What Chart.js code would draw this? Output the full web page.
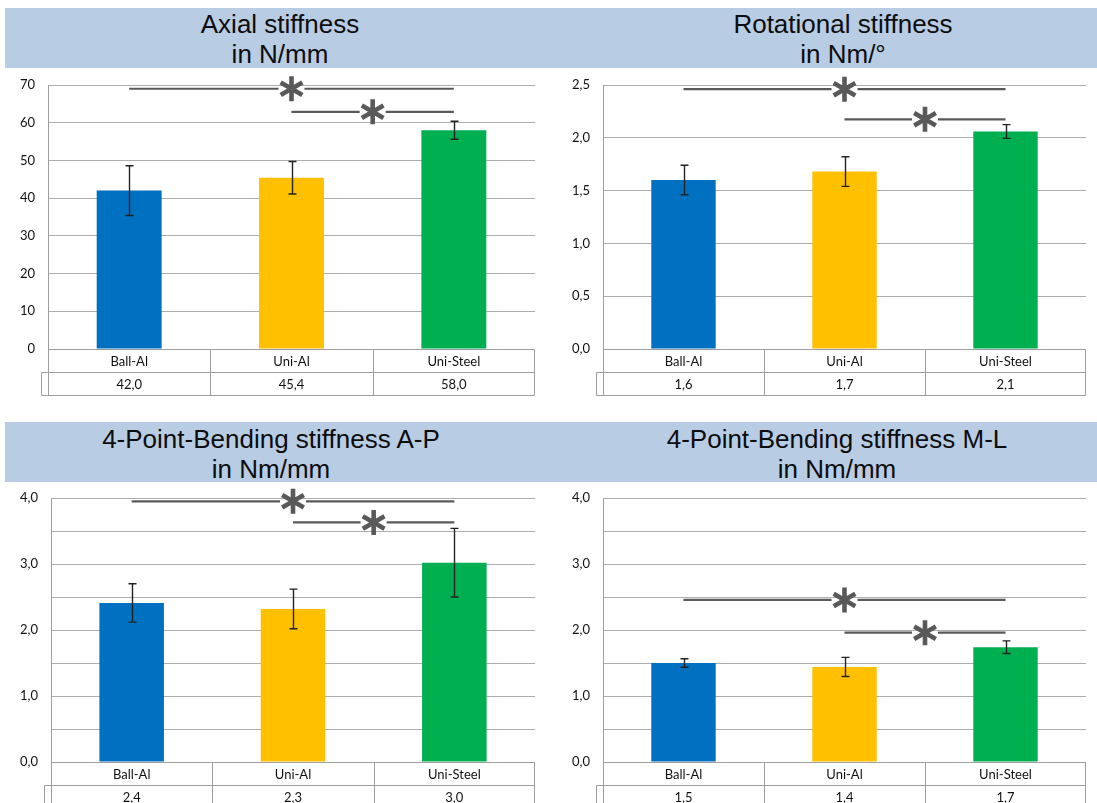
<!DOCTYPE html>
<html>
<head>
<meta charset="utf-8">
<title>Stiffness comparison</title>
<script src="https://cdn.jsdelivr.net/npm/chart.js@4.4.1/dist/chart.umd.min.js"></script>
<style>
  html, body { margin: 0; padding: 0; background: #ffffff; }
  body { position: relative; width: 1097px; height: 803px; overflow: hidden; font-family: 'Liberation Sans', Arial, sans-serif; }
  .band { position: absolute; left: 5px; width: 1092px; height: 60px; background: #B8CCE4; }
  .title { position: absolute; transform: translateX(-50%); text-align: center; white-space: nowrap;
           font-size: 26px; line-height: 30px; color: #0d0d0d; }
  canvas { position: absolute; }
</style>
</head>
<body>
<div class="band" style="top:8px"></div>
<div class="band" style="top:422px"></div>

<div class="title" style="left:280px; top:9px">Axial stiffness<br>in N/mm</div>
<div class="title" style="left:843px; top:9px">Rotational stiffness<br>in Nm/°</div>
<div class="title" style="left:271px; top:424px">4-Point-Bending stiffness A-P<br>in Nm/mm</div>
<div class="title" style="left:837px; top:424px">4-Point-Bending stiffness M-L<br>in Nm/mm</div>

<canvas id="axial" width="550" height="330" style="left:0px; top:70px"></canvas>
<canvas id="rotational" width="547" height="330" style="left:550px; top:70px"></canvas>
<canvas id="bendAP" width="550" height="320" style="left:0px; top:483px"></canvas>
<canvas id="bendML" width="547" height="320" style="left:550px; top:483px"></canvas>

<script>
// Groups compared in every panel
const categories = ['Ball-Al', 'Uni-Al', 'Uni-Steel'];
const barColors = ['#0070C0', '#FFC000', '#00B050'];

// Axial stiffness (N/mm): mean, standard deviation, significance bracket heights
const axialMean = [42.0, 45.4, 58.0];
const axialSD = [6.6, 4.3, 2.4];
const axialSig = [69.0, 62.9];

// Rotational stiffness (Nm/°)
const rotMean = [1.60, 1.68, 2.06];
const rotSD = [0.14, 0.14, 0.065];
const rotSig = [2.46, 2.175];

// 4-point bending stiffness A-P (Nm/mm)
const apMean = [2.41, 2.32, 3.02];
const apSD = [0.29, 0.30, 0.52];
const apSig = [3.95, 3.63];

// 4-point bending stiffness M-L (Nm/mm)
const mlMean = [1.50, 1.44, 1.74];
const mlSD = [0.065, 0.145, 0.095];
const mlSig = [2.455, 1.96];

// Compared pairs (category indices) for the significance brackets
const sigPairs = [[0, 2], [1, 2]];

// Y axis ranges
const axialAxis = { max: 70, step: 10, labelStep: 10, digits: 0 };
const rotAxis = { max: 2.5, step: 0.5, labelStep: 0.5, digits: 1 };
const bendAxis = { max: 4.0, step: 0.5, labelStep: 1.0, digits: 1 };

const TEXT_FONT = 'Lato, "Open Sans", sans-serif';
const GRID = '#ADADAD';
const TABLE_LINE = '#9E9E9E';

function fmt(v, digits) {
  return v.toFixed(digits).replace('.', ',');
}

function isLabelled(v, labelStep) {
  const q = v / labelStep;
  return Math.abs(q - Math.round(q)) < 1e-6;
}

// Data table under the plot: category row and value row
const dataTablePlugin = {
  id: 'dataTable',
  afterDraw(chart) {
    const { ctx, chartArea: a } = chart;
    const x = chart.scales.x;
    const rowH = 23;
    const top = Math.round(a.bottom) + 0.5;
    const r1 = top + rowH, r2 = r1 + rowH;
    const left = Math.round(a.left) + 0.5, right = Math.round(a.right) - 0.5;
    const stub = left - 7;
    ctx.save();
    ctx.strokeStyle = TABLE_LINE;
    ctx.lineWidth = 1;
    ctx.beginPath();
    ctx.moveTo(left, top); ctx.lineTo(right, top);
    ctx.moveTo(stub, r1); ctx.lineTo(right, r1);
    ctx.moveTo(stub, r2); ctx.lineTo(right, r2);
    ctx.moveTo(left, top); ctx.lineTo(left, r2);
    ctx.moveTo(stub, r1); ctx.lineTo(stub, r2);
    ctx.moveTo(right, top); ctx.lineTo(right, r2);
    for (let i = 0; i < categories.length - 1; i++) {
      const bx = Math.round(x.getPixelForValue(i + 0.5)) + 0.5;
      ctx.moveTo(bx, top); ctx.lineTo(bx, r2);
    }
    ctx.stroke();

    ctx.fillStyle = '#111111';
    ctx.font = '13px ' + TEXT_FONT;
    ctx.textAlign = 'center';
    ctx.textBaseline = 'middle';
    const values = chart.data.datasets[0].data;
    categories.forEach((c, i) => {
      const cx = x.getPixelForValue(i);
      ctx.fillText(c, cx, top + rowH / 2 + 0.5);
      ctx.fillText(fmt(values[i], 1), cx, r1 + rowH / 2 + 0.5);
    });
    ctx.restore();
  }
};

// Standard deviation whiskers on every bar
const errorBarPlugin = {
  id: 'errorBars',
  afterDatasetsDraw(chart, args, opts) {
    const { ctx } = chart;
    const y = chart.scales.y;
    const meta = chart.getDatasetMeta(0);
    const values = chart.data.datasets[0].data;
    ctx.save();
    ctx.strokeStyle = '#222222';
    ctx.lineWidth = 1.4;
    meta.data.forEach((bar, i) => {
      const cx = Math.round(bar.x) + 0.5;
      const yt = y.getPixelForValue(values[i] + opts.sd[i]);
      const yb = y.getPixelForValue(values[i] - opts.sd[i]);
      ctx.beginPath();
      ctx.moveTo(cx, yt); ctx.lineTo(cx, yb);
      ctx.moveTo(cx - 4, yt); ctx.lineTo(cx + 4, yt);
      ctx.moveTo(cx - 4, yb); ctx.lineTo(cx + 4, yb);
      ctx.stroke();
    });
    ctx.restore();
  }
};

// Significance brackets: a line between two groups with an asterisk in the middle
const significancePlugin = {
  id: 'significance',
  afterDraw(chart, args, opts) {
    const { ctx } = chart;
    const x = chart.scales.x, y = chart.scales.y;
    const half = 13, arm = 12.5;
    ctx.save();
    ctx.strokeStyle = '#595959';
    sigPairs.forEach((pair, k) => {
      const x1 = x.getPixelForValue(pair[0]);
      const x2 = x.getPixelForValue(pair[1]);
      const ly = y.getPixelForValue(opts.levels[k]);
      const cx = (x1 + x2) / 2;
      ctx.lineWidth = 2.2;
      ctx.lineCap = 'butt';
      ctx.beginPath();
      ctx.moveTo(x1, ly); ctx.lineTo(cx - half, ly);
      ctx.moveTo(cx + half, ly); ctx.lineTo(x2, ly);
      ctx.stroke();
      ctx.lineWidth = 4.6;
      ctx.beginPath();
      [90, 30, 150].forEach(deg => {
        const r = deg * Math.PI / 180;
        const dx = Math.cos(r) * arm, dy = Math.sin(r) * arm;
        ctx.moveTo(cx - dx, ly - dy);
        ctx.lineTo(cx + dx, ly + dy);
      });
      ctx.stroke();
    });
    ctx.restore();
  }
};

function makeChart(id, mean, sd, sig, axis, yWidth, padding) {
  const canvas = document.getElementById(id);
  return new Chart(canvas, {
    type: 'bar',
    data: {
      labels: categories,
      datasets: [{
        data: mean,
        backgroundColor: barColors,
        borderWidth: 0,
        barPercentage: 0.4,
        categoryPercentage: 1.0
      }]
    },
    options: {
      responsive: false,
      animation: false,
      layout: { padding: padding },
      plugins: {
        legend: { display: false },
        title: { display: false },
        tooltip: { enabled: false },
        errorBars: { sd: sd },
        significance: { levels: sig }
      },
      scales: {
        x: {
          display: false,
          offset: true,
          grid: { display: false }
        },
        y: {
          min: 0,
          max: axis.max,
          afterFit(scale) {
            scale.width = yWidth;
            scale.paddingTop = 0;
            scale.paddingBottom = 0;
          },
          border: { display: true, color: TABLE_LINE, width: 1 },
          grid: { color: GRID, lineWidth: 1, drawTicks: false },
          ticks: {
            stepSize: axis.step,
            autoSkip: false,
            padding: 13,
            color: (c) => isLabelled(c.tick.value, axis.labelStep) ? '#111111' : 'rgba(0,0,0,0)',
            font: { family: TEXT_FONT, size: 13 },
            callback(v) {
              return fmt(v, axis.digits);
            }
          }
        }
      }
    },
    plugins: [dataTablePlugin, errorBarPlugin, significancePlugin]
  });
}

makeChart('axial', axialMean, axialSD, axialSig, axialAxis, 48, { top: 15, right: 15, bottom: 51, left: 0 });
makeChart('rotational', rotMean, rotSD, rotSig, rotAxis, 53, { top: 15, right: 11, bottom: 51, left: 0 });
makeChart('bendAP', apMean, apSD, apSig, bendAxis, 51, { top: 15, right: 15, bottom: 41, left: 0 });
makeChart('bendML', mlMean, mlSD, mlSig, bendAxis, 53, { top: 15, right: 11, bottom: 41, left: 0 });
</script>
</body>
</html>
